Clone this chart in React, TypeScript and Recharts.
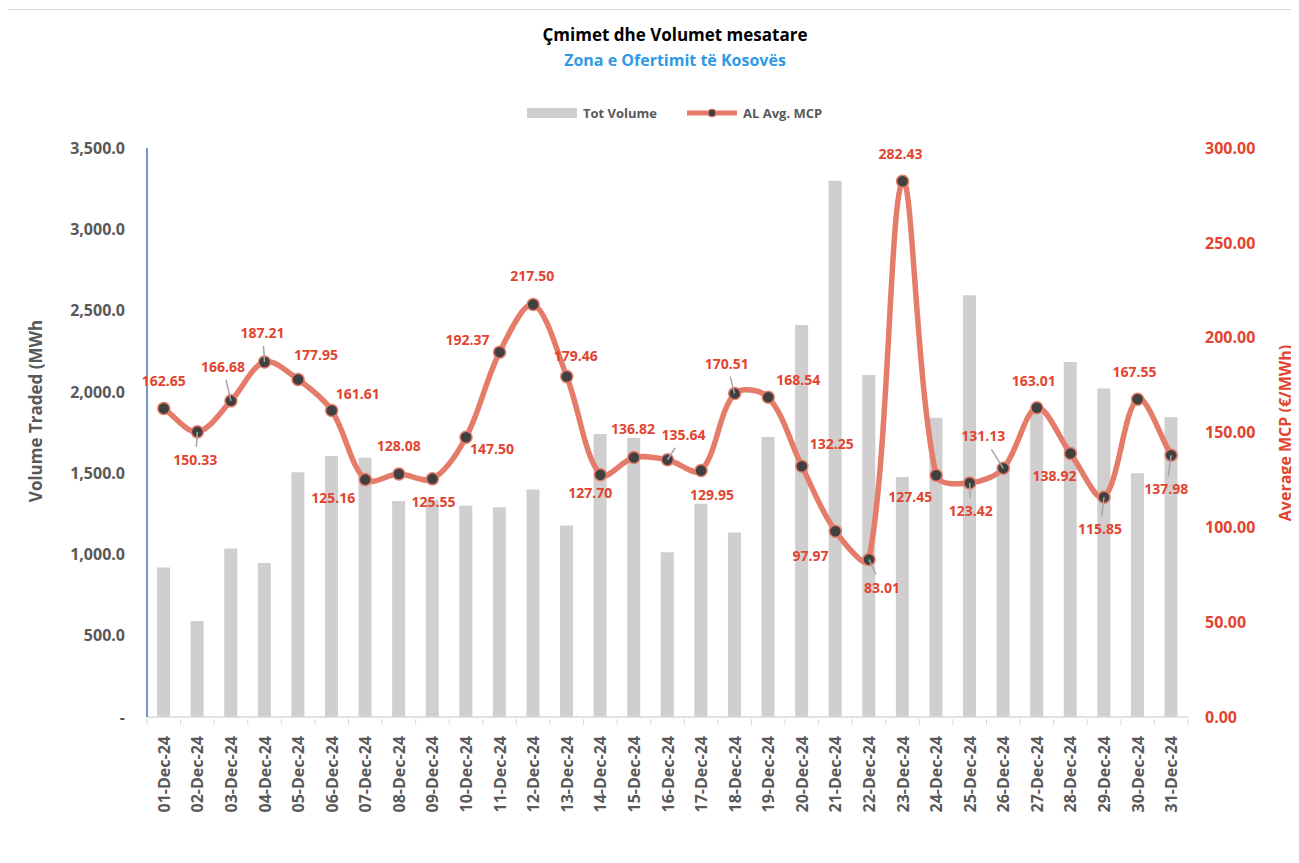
import React from 'react';
import { ComposedChart, Bar, Line, XAxis, YAxis, LabelList } from 'recharts';

const days = [
  '01-Dec-24', '02-Dec-24', '03-Dec-24', '04-Dec-24', '05-Dec-24', '06-Dec-24', '07-Dec-24',
  '08-Dec-24', '09-Dec-24', '10-Dec-24', '11-Dec-24', '12-Dec-24', '13-Dec-24', '14-Dec-24',
  '15-Dec-24', '16-Dec-24', '17-Dec-24', '18-Dec-24', '19-Dec-24', '20-Dec-24', '21-Dec-24',
  '22-Dec-24', '23-Dec-24', '24-Dec-24', '25-Dec-24', '26-Dec-24', '27-Dec-24', '28-Dec-24',
  '29-Dec-24', '30-Dec-24', '31-Dec-24',
];

const totVolume = [
  920, 590, 1037, 948, 1506, 1605, 1595, 1328, 1337, 1300, 1290, 1400, 1178, 1741, 1717, 1013,
  1311, 1135, 1722, 2412, 3298, 2104, 1476, 1841, 2595, 1548, 1905, 2184, 2020, 1499, 1844,
];

const avgMcp = [
  162.65, 150.33, 166.68, 187.21, 177.95, 161.61, 125.16, 128.08, 125.55, 147.5, 192.37, 217.5,
  179.46, 127.7, 136.82, 135.64, 129.95, 170.51, 168.54, 132.25, 97.97, 83.01, 282.43, 127.45,
  123.42, 131.13, 163.01, 138.92, 115.85, 167.55, 137.98,
];

const volumeTicks = [0, 500, 1000, 1500, 2000, 2500, 3000, 3500];
const mcpTicks = [0, 50, 100, 150, 200, 250, 300];

// where each price label sits relative to its point: [dx, dy, leader line]
const labelPlacement: [number, number, boolean][] = [
  [0, -28, false], [-2, 28, true], [-8, -34, true], [-2, -29, true], [18, -24, false],
  [26, -16, false], [-32, 18, false], [0, -28, false], [1, 23, false], [26, 12, false],
  [-32, -12, false], [-1, -28, false], [9, -21, false], [-10, 18, false], [-1, -28, false],
  [16, -25, true], [11, 24, false], [-8, -30, true], [30, -17, false], [30, -22, false],
  [-25, 25, false], [13, 28, true], [-2, -27, false], [-26, 22, false], [1, 28, true],
  [-20, -32, true], [-3, -27, false], [-16, 22, false], [-4, 32, true], [-3, -27, false],
  [-5, 34, true],
];

const data = days.map((day, i) => ({ day, volume: totVolume[i], mcp: avgMcp[i] }));

const FONT = '"Open Sans", "DejaVu Sans", sans-serif';
const GREY_TEXT = '#595959';
const RED = '#e2442f';
const SALMON = '#e57b69';
const BAR = '#d0cece';
const BAND = 1041 / days.length;

// Excel-like smoothed line: tangents scaled by the neighbouring segment lengths
function excelSmooth(context: any) {
  let pts: number[][] = [];
  const dist = (a: number[], b: number[]) => Math.hypot(b[0] - a[0], b[1] - a[1]);
  return {
    areaStart() {},
    areaEnd() {},
    lineStart() {
      pts = [];
    },
    point(x: number, y: number) {
      pts.push([+x, +y]);
    },
    lineEnd() {
      if (!pts.length) return;
      context.moveTo(pts[0][0], pts[0][1]);
      for (let i = 0; i < pts.length - 1; i++) {
        const p0 = pts[i - 1] || pts[i];
        const p1 = pts[i];
        const p2 = pts[i + 1];
        const p3 = pts[i + 2] || p2;
        const d01 = dist(p0, p1);
        const d12 = dist(p1, p2);
        const d23 = dist(p2, p3);
        const f1 = d01 + d12 > 0 ? (2 * d12) / (d01 + d12) / 6 : 0;
        const f2 = d12 + d23 > 0 ? (2 * d12) / (d12 + d23) / 6 : 0;
        context.bezierCurveTo(
          p1[0] + (p2[0] - p0[0]) * f1,
          p1[1] + (p2[1] - p0[1]) * f1,
          p2[0] - (p3[0] - p1[0]) * f2,
          p2[1] - (p3[1] - p1[1]) * f2,
          p2[0],
          p2[1]
        );
      }
    },
  };
}

const DayTick = (props: any) => {
  const { x, y, payload, index } = props;
  return (
    <g transform={`translate(${x},${y})`}>
      <line x1={-BAND / 2} x2={-BAND / 2} y1={0} y2={6} stroke="#d9d9d9" />
      {index === days.length - 1 && (
        <line x1={BAND / 2} x2={BAND / 2} y1={0} y2={6} stroke="#d9d9d9" />
      )}
      <text
        transform="rotate(-90)"
        x={-17}
        y={6}
        textAnchor="end"
        fill={GREY_TEXT}
        fontFamily={FONT}
        fontWeight={700}
        fontSize={16}
      >
        {payload.value}
      </text>
    </g>
  );
};

const PriceLabel = (props: any) => {
  const { x, y, value, index } = props;
  const [dx, dy, leader] = labelPlacement[index];
  const k = Math.max(0, 1 - 13 / Math.abs(dy));
  return (
    <g>
      {leader && (
        <line x1={x} y1={y} x2={x + dx * k} y2={y + dy * k} stroke="#a6a6a6" strokeWidth={1.5} />
      )}
      <text
        x={x + dx}
        y={y + dy + 5}
        textAnchor="middle"
        fill={RED}
        fontFamily={FONT}
        fontWeight={700}
        fontSize={14}
      >
        {Number(value).toFixed(2)}
      </text>
    </g>
  );
};

export default function App() {
  return (
    <div
      style={{
        position: 'relative',
        width: 1299,
        height: 863,
        margin: -8,
        overflow: 'hidden',
        background: '#fff',
        fontFamily: FONT,
      }}
    >
      <ComposedChart
        width={1299}
        height={863}
        data={data}
        margin={{ top: 148, right: 0, bottom: 0, left: 0 }}
        barCategoryGap="30%"
      >
        <XAxis
          dataKey="day"
          interval={0}
          height={146}
          tickSize={0}
          tickLine={false}
          axisLine={{ stroke: '#d9d9d9', strokeWidth: 1.5 }}
          tick={<DayTick />}
        />
        <YAxis
          yAxisId="vol"
          width={147}
          domain={[0, 3500]}
          ticks={volumeTicks}
          tickSize={0}
          tickMargin={22}
          tickLine={false}
          axisLine={{ stroke: '#4472c4', strokeWidth: 1.5 }}
          tick={{ fill: GREY_TEXT, fontSize: 16, fontWeight: 700, fontFamily: FONT }}
          tickFormatter={(v: number) =>
            v === 0 ? '-' : v.toLocaleString('en-US', { minimumFractionDigits: 1 })
          }
        />
        <YAxis
          yAxisId="mcp"
          orientation="right"
          width={111}
          domain={[0, 300]}
          ticks={mcpTicks}
          tickSize={0}
          tickMargin={17}
          tickLine={false}
          axisLine={false}
          tick={{ fill: RED, fontSize: 16, fontWeight: 700, fontFamily: FONT, textAnchor: 'start' }}
          tickFormatter={(v: number) => v.toFixed(2)}
        />
        <Bar yAxisId="vol" dataKey="volume" fill={BAR} isAnimationActive={false} />
        <Line
          yAxisId="mcp"
          dataKey="mcp"
          type={excelSmooth as any}
          stroke={SALMON}
          strokeWidth={5.5}
          dot={{ r: 6, fill: '#404040', stroke: SALMON, strokeWidth: 1.5 }}
          activeDot={false}
          isAnimationActive={false}
        >
          <LabelList dataKey="mcp" content={<PriceLabel />} />
        </Line>
      </ComposedChart>

      {/* frame */}
      <div
        style={{
          position: 'absolute',
          left: 6,
          top: 9,
          width: 1400,
          height: 1000,
          border: '1.5px solid #d9d9d9',
          pointerEvents: 'none',
        }}
      />

      {/* titles */}
      <div
        style={{
          position: 'absolute',
          left: 675,
          top: 34,
          transform: 'translate(-50%, -50%)',
          whiteSpace: 'nowrap',
          fontWeight: 700,
          fontSize: 17,
          color: '#000',
        }}
      >
        Çmimet dhe Volumet mesatare
      </div>
      <div
        style={{
          position: 'absolute',
          left: 675,
          top: 60,
          transform: 'translate(-50%, -50%)',
          whiteSpace: 'nowrap',
          fontWeight: 700,
          fontSize: 16,
          color: '#2f9ae3',
        }}
      >
        Zona e Ofertimit të Kosovës
      </div>

      {/* legend */}
      <div
        style={{
          position: 'absolute',
          left: 527,
          top: 104,
          height: 18,
          display: 'flex',
          alignItems: 'center',
          whiteSpace: 'nowrap',
          fontWeight: 700,
          fontSize: 13,
          color: GREY_TEXT,
        }}
      >
        <span style={{ display: 'inline-block', width: 50, height: 10, background: BAR }} />
        <span style={{ marginLeft: 6 }}>Tot Volume</span>
        <svg width={50} height={14} style={{ marginLeft: 30 }}>
          <line x1={0} y1={7} x2={50} y2={7} stroke={SALMON} strokeWidth={5} />
          <circle cx={25} cy={7} r={4} fill="#404040" stroke={SALMON} strokeWidth={1} />
        </svg>
        <span style={{ marginLeft: 6 }}>AL Avg. MCP</span>
      </div>

      {/* axis titles */}
      <div
        style={{
          position: 'absolute',
          left: 35,
          top: 411,
          transform: 'translate(-50%, -50%) rotate(-90deg)',
          whiteSpace: 'nowrap',
          fontWeight: 700,
          fontSize: 17,
          color: GREY_TEXT,
        }}
      >
        Volume Traded (MWh
      </div>
      <div
        style={{
          position: 'absolute',
          left: 1285,
          top: 433,
          transform: 'translate(-50%, -50%) rotate(-90deg)',
          whiteSpace: 'nowrap',
          fontWeight: 700,
          fontSize: 16,
          lineHeight: '20px',
          color: RED,
        }}
      >
        Average MCP (€/MWh)
      </div>
    </div>
  );
}
